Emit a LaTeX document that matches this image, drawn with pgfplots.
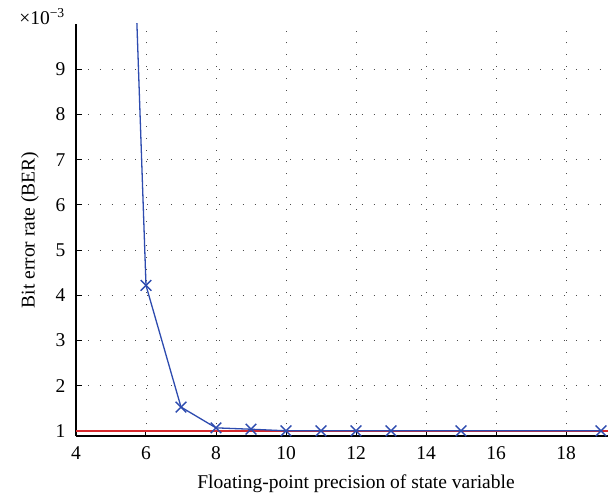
\documentclass[border=0pt]{standalone}
\usepackage{fontspec}
\setmainfont{Liberation Serif}
\usepackage{pgfplots}
\pgfplotsset{compat=1.18}
\definecolor{myblue}{RGB}{45,75,175}
\definecolor{myred}{RGB}{215,40,45}
\begin{document}
\fontsize{19.5}{23}\selectfont
\begin{tikzpicture}
\begin{axis}[
  name=ax,
  scale only axis, width=560pt, height=412pt,
  xmin=4, xmax=20, ymin=0.89, ymax=10,
  axis x line*=bottom, axis y line*=left,
  axis line style={line width=1.2pt, -},
  xtick={4,6,...,18}, ytick={1,...,9},
  grid=major, grid style={black!70, line width=0.9pt, dash pattern=on 0.9pt off 11pt},
  tick align=inside, major tick length=6pt, tick style={black, line width=1pt},
  /pgf/number format/assume math mode=true,
  tick label style={font=\fontsize{19.5}{23}\selectfont},
  label style={font=\fontsize{19.5}{23}\selectfont},
  xticklabel style={yshift=-4pt},
  yticklabel style={xshift=-4pt},
  xlabel={Floating-point precision of state variable},
  ylabel={Bit error rate (BER)},
  xlabel style={at={([yshift=-48pt]axis description cs:0.5,0)}, anchor=center},
  ylabel style={at={([xshift=-46pt]axis description cs:0,0.5)}, anchor=center},
]
\addplot[myred, line width=1.2pt] coordinates {(4,1.0) (20,1.0)};
\addplot[myblue, line width=1.3pt, mark=x, mark size=7.5pt, mark options={solid, line width=1.4pt}] coordinates {
(5,26.5) (6,4.22) (7,1.53) (8,1.07) (9,1.04) (10,1.005) (11,1.005) (12,1.005) (13,1.005) (15,1.005) (19,1.005)};
\end{axis}
\node[anchor=base east, inner sep=0pt] at ([xshift=-11pt, yshift=-1pt]ax.north west) {×10\textsuperscript{−3}};
\pgfresetboundingbox
\useasboundingbox ([xshift=-76pt, yshift=-66pt]ax.south west) rectangle ([xshift=532pt, yshift=24pt]ax.south west |- ax.north west);
\end{tikzpicture}
\end{document}
